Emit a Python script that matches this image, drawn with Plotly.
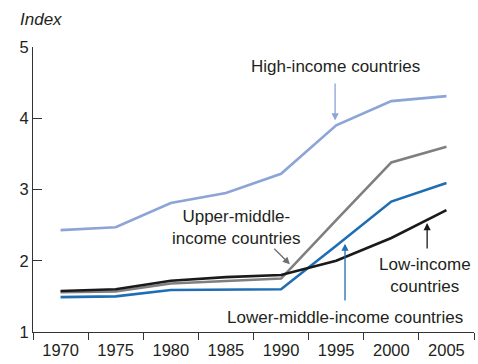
import plotly.graph_objects as go

years = ["1970", "1975", "1980", "1985", "1990", "1995", "2000", "2005"]
high_income = [2.43, 2.47, 2.81, 2.95, 3.22, 3.90, 4.24, 4.31]
upper_middle = [1.56, 1.57, 1.68, 1.72, 1.75, 2.57, 3.38, 3.60]
lower_middle = [1.49, 1.50, 1.59, 1.60, 1.60, 2.21, 2.83, 3.09]
low_income = [1.575, 1.60, 1.72, 1.77, 1.80, 2.00, 2.32, 2.71]
y_ticks = [1, 2, 3, 4, 5]

FONT = "Liberation Sans, Arial, sans-serif"
TXT = "#231f20"

fig = go.Figure()
series = [
    (high_income, "#8ca4d6", "High-income countries"),
    (upper_middle, "#7f7f7f", "Upper-middle-income countries"),
    (lower_middle, "#1f6db3", "Lower-middle-income countries"),
    (low_income, "#1a1a1a", "Low-income countries"),
]
for vals, col, name in series:
    fig.add_trace(go.Scatter(x=years, y=vals, mode="lines", name=name,
                             line=dict(color=col, width=2.6), showlegend=False))

def txt(x, y, s):
    fig.add_annotation(x=x, y=y, xref="x", yref="y", text=s, showarrow=False,
                       font=dict(family=FONT, size=17, color=TXT),
                       xanchor="center", yanchor="middle", align="center")

def arrow(x0, y0, x1, y1, col):
    fig.add_annotation(x=x1, y=y1, ax=x0, ay=y0, xref="x", yref="y", axref="x", ayref="y",
                       text="", showarrow=True, arrowhead=2, arrowsize=1.1,
                       arrowwidth=1.3, arrowcolor=col, standoff=0)

txt(4.98, 4.72, "High-income countries")
arrow(4.98, 4.51, 4.98, 3.97, "#8ca4d6")

txt(3.20, 2.47, "Upper-middle-<br>income countries")
arrow(3.85, 2.19, 4.16, 1.95, "#6f6f6f")

txt(5.16, 1.21, "Lower-middle-income countries")
arrow(5.16, 1.42, 5.16, 2.24, "#1f6db3")

txt(6.61, 1.79, "Low-income<br>countries")
arrow(6.65, 2.15, 6.65, 2.53, "#1a1a1a")

fig.add_annotation(x=-0.034, y=1.095, xref="paper", yref="paper", text="<i>Index</i>",
                   showarrow=False, xanchor="left", yanchor="middle",
                   font=dict(family=FONT, size=17, color=TXT))

fig.update_xaxes(type="category", tickson="boundaries", range=[-0.5, 7.5],
                 showline=True, linecolor="#333333", linewidth=1.2,
                 ticks="outside", ticklen=7, tickcolor="#333333", tickwidth=1.2,
                 showgrid=False, zeroline=False, automargin=False,
                 ticklabelstandoff=3,
                 tickfont=dict(family=FONT, size=16.5, color=TXT))
fig.update_yaxes(range=[1, 5], tickvals=y_ticks, showline=True, linecolor="#333333",
                 linewidth=1.2, ticks="inside", ticklen=9, tickcolor="#333333",
                 tickwidth=1.2, showgrid=False, zeroline=False, automargin=False,
                 tickfont=dict(family=FONT, size=16.5, color=TXT))

fig.update_layout(width=478, height=364, margin=dict(l=33, r=4, t=47, b=32),
                  plot_bgcolor="white", paper_bgcolor="white")

fig.write_html("out.html", config={"displayModeBar": False},
               post_script="document.body.style.margin='0';document.body.style.overflow='hidden';")
